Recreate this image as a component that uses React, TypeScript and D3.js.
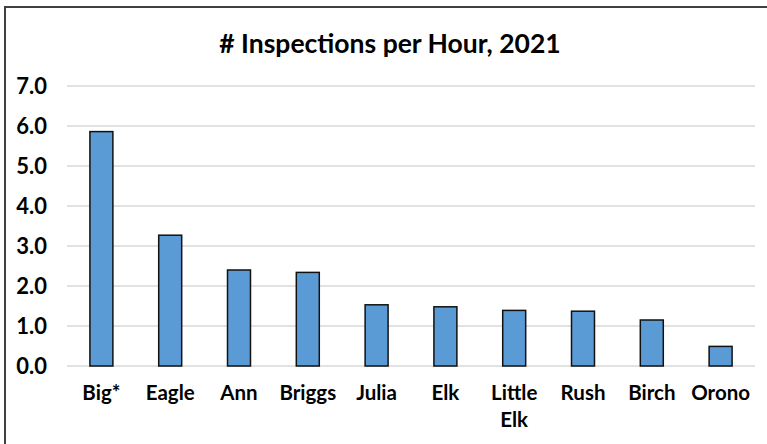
import React, { useRef, useEffect } from 'react'
import * as d3 from 'd3'

const lakes = ['Big*', 'Eagle', 'Ann', 'Briggs', 'Julia', 'Elk', 'Little Elk', 'Rush', 'Birch', 'Orono']
const perHour = [5.86, 3.27, 2.4, 2.34, 1.53, 1.48, 1.39, 1.37, 1.15, 0.49]
const yTicks = [0, 1, 2, 3, 4, 5, 6, 7]
const title = '# Inspections per Hour, 2021'

export default function App() {
  const canvas = useRef<SVGSVGElement>(null)

  useEffect(() => {
    const svg = d3.select(canvas.current)
    svg.selectAll('*').remove()

    const font = 'Lato, "Open Sans", sans-serif'

    // chart frame (right/bottom edges fall off the picture)
    svg.append('rect')
      .attr('x', 5).attr('y', 7)
      .attr('width', 800).attr('height', 480)
      .attr('fill', '#fff')
      .attr('stroke', '#404040')
      .attr('stroke-width', 2)

    const x = d3.scaleBand<string>().domain(lakes).range([67, 755]).paddingInner(0.666).paddingOuter(0.333)
    const y = d3.scaleLinear().domain([0, 7]).range([366, 86])

    svg.append('text')
      .attr('x', 390).attr('y', 53)
      .attr('text-anchor', 'middle')
      .attr('font-family', font)
      .attr('font-weight', 'bold')
      .attr('font-size', 26.5)
      .attr('fill', '#000')
      .text(title)

    const grid = svg.append('g')
    grid.selectAll('line').data(yTicks).enter().append('line')
      .attr('x1', 67).attr('x2', 755)
      .attr('y1', (d) => y(d)).attr('y2', (d) => y(d))
      .attr('stroke', '#d9d9d9')
      .attr('stroke-width', 1.5)

    grid.selectAll('text').data(yTicks).enter().append('text')
      .attr('x', 47)
      .attr('y', (d) => y(d) + 7.5)
      .attr('text-anchor', 'end')
      .attr('font-family', font)
      .attr('font-weight', 'bold')
      .attr('font-size', 22)
      .attr('fill', '#000')
      .text((d) => d3.format('.1f')(d))

    svg.append('g').selectAll('rect').data(lakes).enter().append('rect')
      .attr('x', (d) => x(d)!)
      .attr('width', x.bandwidth())
      .attr('y', (d, i) => y(perHour[i]))
      .attr('height', (d, i) => y(0) - y(perHour[i]))
      .attr('fill', '#5b9bd5')
      .attr('stroke', '#111')
      .attr('stroke-width', 1.5)

    const labels = svg.append('g').selectAll('text').data(lakes).enter().append('text')
      .attr('x', (d) => x(d)! + x.bandwidth() / 2)
      .attr('y', 400)
      .attr('text-anchor', 'middle')
      .attr('font-family', font)
      .attr('font-weight', 'bold')
      .attr('font-size', 20.5)
      .attr('fill', '#000')

    labels.each(function (d) {
      const words = d === 'Little Elk' ? ['Little', 'Elk'] : [d]
      const t = d3.select(this)
      words.forEach((w, i) => {
        t.append('tspan')
          .attr('x', x(d)! + x.bandwidth() / 2)
          .attr('dy', i === 0 ? 0 : 27)
          .text(w)
      })
    })
  }, [])

  return (
    <svg ref={canvas} width="767" height="444" style={{ position: 'absolute', left: 0, top: 0 }} />
  )
}
